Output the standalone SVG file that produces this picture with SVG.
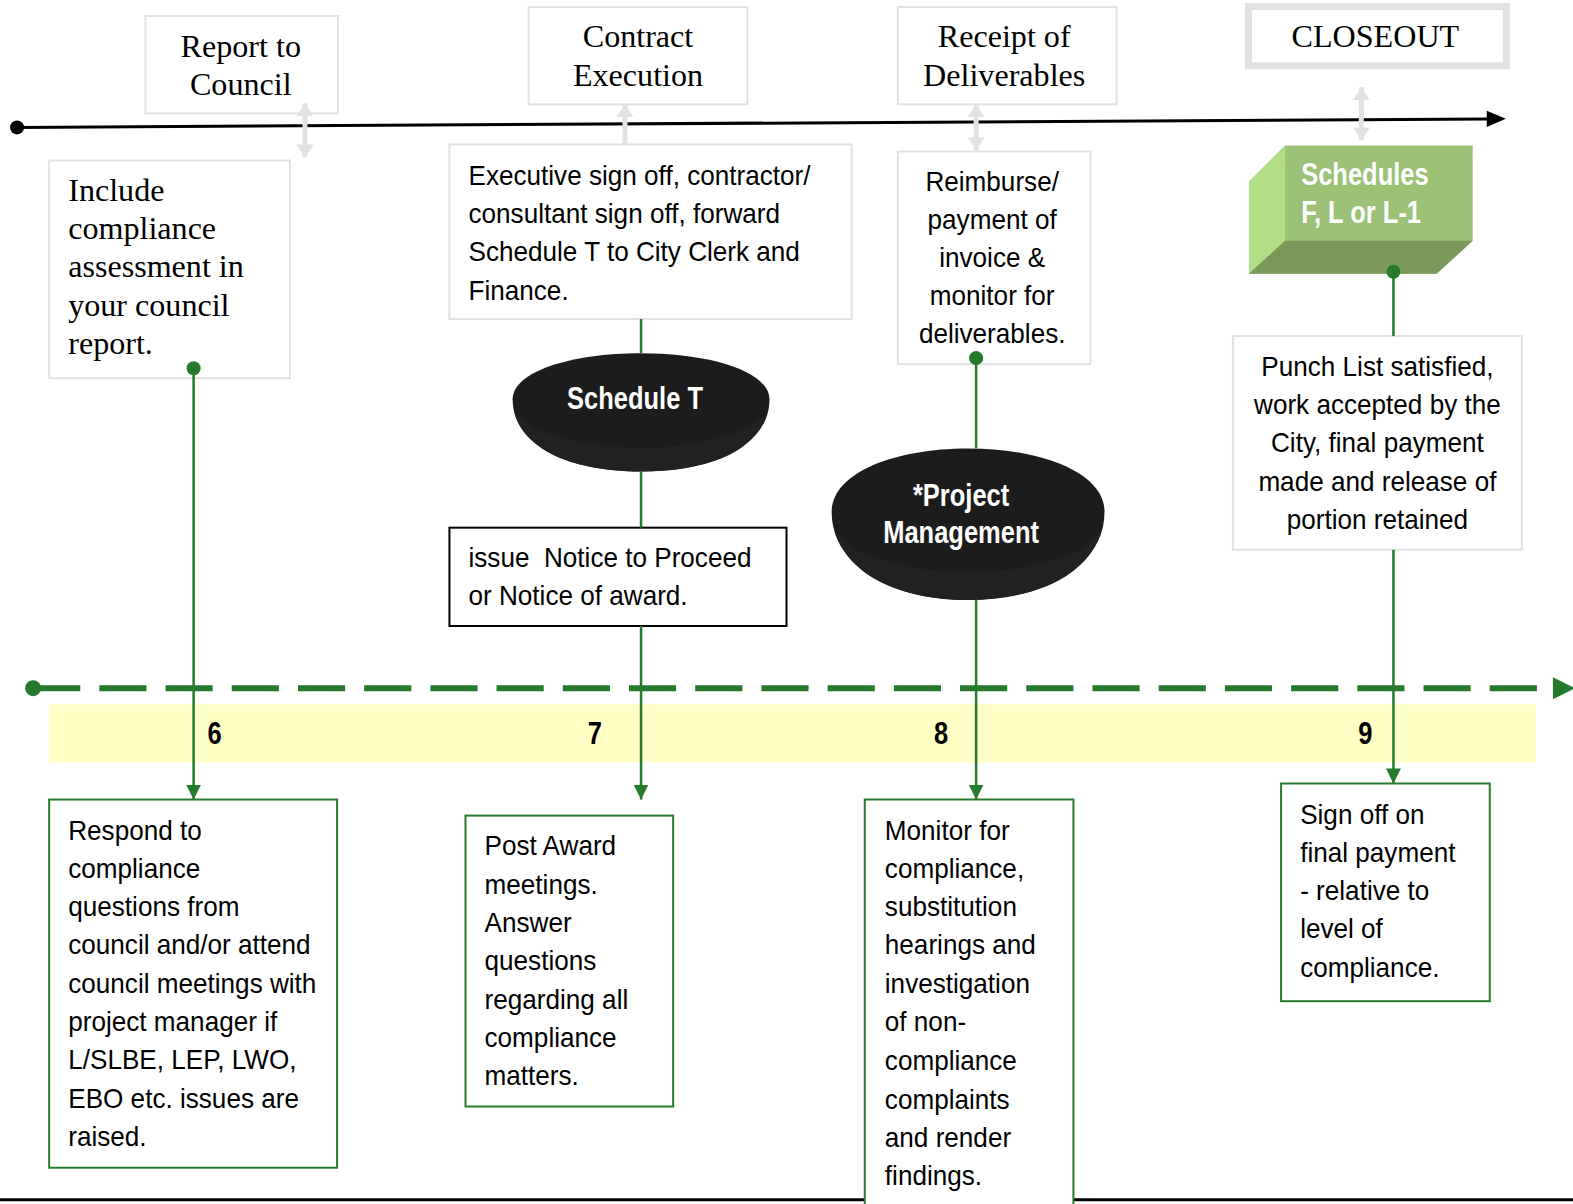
<svg xmlns="http://www.w3.org/2000/svg" width="1573" height="1204" viewBox="0 0 1573 1204">
<style>
.gbox{fill:#fff;stroke:#e2e2e2;stroke-width:2}
.grbox{fill:#fff;stroke:#267a2c;stroke-width:2}
.bbox{fill:#fff;stroke:#000;stroke-width:2}
.serif{font-family:"Liberation Serif","Times New Roman",serif;font-size:32px;fill:#000}
.sans{font-family:"Liberation Sans",Arial,sans-serif;font-size:28px;fill:#000}
.bold{font-family:"Liberation Sans",Arial,sans-serif;font-size:31px;font-weight:bold}
.mid{text-anchor:middle}
.gline{stroke:#267a2c;stroke-width:2.5;fill:none}
.grey{stroke:#e2e2e2;stroke-width:5;fill:none}
</style>
<defs>
<marker id="ga" viewBox="0 0 10 10" refX="10" refY="5" markerWidth="15" markerHeight="15" markerUnits="userSpaceOnUse" orient="auto"><path d="M0,0L10,5L0,10Z" fill="#267a2c"/></marker>
<marker id="gr" viewBox="0 0 10 10" refX="10" refY="5" markerWidth="13" markerHeight="17" markerUnits="userSpaceOnUse" orient="auto-start-reverse" preserveAspectRatio="none"><path d="M0,0L10,5L0,10Z" fill="#e2e2e2"/></marker>
</defs>
<g transform="scale(1.0032)">
<!-- timelines -->
<g id="timelines">
<line x1="17" y1="127" x2="1484" y2="118.6" stroke="#000" stroke-width="3"/>
<circle cx="17" cy="127" r="7" fill="#000"/>
<polygon points="1482,110.5 1501,118.4 1482,126.5" fill="#000"/>
<line x1="33" y1="686" x2="1550" y2="686" stroke="#267a2c" stroke-width="6" stroke-dasharray="47 19"/>
<circle cx="33" cy="686" r="8" fill="#267a2c"/>
<polygon points="1548,675 1570,686 1548,697" fill="#267a2c"/>
<rect x="49" y="702" width="1482" height="58" fill="#ffffc6"/>
<line x1="0" y1="1196" x2="1573" y2="1196" stroke="#000" stroke-width="3"/>
</g>

<!-- top stage boxes -->
<g id="report-to-council"><rect class="gbox" x="145" y="16" width="192" height="97"/>
<text class="serif mid"><tspan x="240" y="57">Report to</tspan><tspan x="240" y="95">Council</tspan></text></g>
<g id="contract-execution"><rect class="gbox" x="527" y="7" width="218" height="97"/>
<text class="serif mid"><tspan x="636" y="47">Contract</tspan><tspan x="636" y="86">Execution</tspan></text></g>
<g id="receipt-of-deliverables"><rect class="gbox" x="895" y="7" width="218" height="97"/>
<text class="serif mid"><tspan x="1001" y="47">Receipt of</tspan><tspan x="1001" y="86">Deliverables</tspan></text></g>
<g id="closeout"><rect x="1244.5" y="6.5" width="257" height="59" fill="#fff" stroke="#e2e2e2" stroke-width="7"/>
<text class="serif mid" x="1371" y="47">CLOSEOUT</text></g>

<!-- upper detail boxes -->
<g id="include-compliance"><rect class="gbox" x="49" y="160" width="240" height="217"/>
<text class="serif"><tspan x="68" y="200">Include</tspan><tspan x="68" y="238">compliance</tspan><tspan x="68" y="276">assessment in</tspan><tspan x="68" y="315">your council</tspan><tspan x="68" y="353">report.</tspan></text></g>

<g id="executive-sign-off"><rect class="gbox" x="448" y="144" width="401" height="174"/>
<text class="sans" transform="translate(467,0) scale(0.93,1)"><tspan x="0" y="184">Executive sign off, contractor/</tspan><tspan x="0" y="222">consultant sign off, forward</tspan><tspan x="0" y="260">Schedule T to City Clerk and</tspan><tspan x="0" y="299">Finance.</tspan></text></g>

<g id="reimburse"><rect class="gbox" x="895" y="151" width="192" height="212"/>
<text class="sans mid" transform="translate(989,0) scale(0.93,1)"><tspan x="0" y="190">Reimburse/</tspan><tspan x="0" y="228">payment of</tspan><tspan x="0" y="266">invoice &amp;</tspan><tspan x="0" y="304">monitor for</tspan><tspan x="0" y="342">deliverables.</tspan></text></g>

<g id="schedules-f-l"><polygon points="1245,181 1281,145 1468,145 1468,240 1432,273 1245,273" fill="#9bc277"/>
<polygon points="1245,181 1281,145 1281,240 1245,273" fill="#b2de88"/>
<polygon points="1281,240 1468,240 1432,273 1245,273" fill="#7a995a"/>
<text class="bold" fill="#fff" transform="translate(1297,0) scale(0.82,1)"><tspan x="0" y="184">Schedules</tspan><tspan x="0" y="222">F, L or L-1</tspan></text></g>

<g id="punch-list"><rect class="gbox" x="1229" y="335" width="288" height="213"/>
<text class="sans mid" transform="translate(1373,0) scale(0.93,1)"><tspan x="0" y="375">Punch List satisfied,</tspan><tspan x="0" y="413">work accepted by the</tspan><tspan x="0" y="451">City, final payment</tspan><tspan x="0" y="489">made and release of</tspan><tspan x="0" y="527">portion retained</tspan></text></g>

<g id="schedule-t"><path d="M511,398 C511,370 570,352 639,352 C708,352 767,370 767,398 C767,445 710,470 639,470 C568,470 511,445 511,398 Z" fill="#1c1c1c"/>
<path d="M515,412 C530,432 580,446 639,446 C698,446 748,432 763,412 C755,450 705,470 639,470 C573,470 523,450 515,412 Z" fill="#212121"/>
<text class="bold mid" fill="#fff" transform="translate(633,0) scale(0.82,1)" x="0" y="408">Schedule T</text></g>

<g id="issue-notice"><rect class="bbox" x="448" y="526" width="336" height="98"/>
<text class="sans" transform="translate(467,0) scale(0.93,1)"><tspan x="0" y="565" xml:space="preserve">issue  Notice to Proceed</tspan><tspan x="0" y="603">or Notice of award.</tspan></text></g>

<g id="project-management"><path d="M829,510 C829,472 890,447 965,447 C1040,447 1101,472 1101,510 C1101,565 1040,598 965,598 C890,598 829,565 829,510 Z" fill="#1c1c1c"/>
<path d="M834,530 C850,555 905,570 965,570 C1025,570 1080,555 1096,530 C1085,575 1030,598 965,598 C900,598 845,575 834,530 Z" fill="#212121"/>
<text class="bold mid" fill="#fff" transform="translate(958,0) scale(0.82,1)"><tspan x="0" y="504">*Project</tspan><tspan x="0" y="541">Management</tspan></text></g>

<!-- numbers -->
<g id="step-numbers"><text class="bold mid" fill="#000" transform="translate(214,0) scale(0.82,1)" x="0" y="742">6</text>
<text class="bold mid" fill="#000" transform="translate(593,0) scale(0.82,1)" x="0" y="742">7</text>
<text class="bold mid" fill="#000" transform="translate(938,0) scale(0.82,1)" x="0" y="742">8</text>
<text class="bold mid" fill="#000" transform="translate(1361,0) scale(0.82,1)" x="0" y="742">9</text></g>

<!-- bottom boxes -->
<g id="respond"><rect class="grbox" x="49" y="797" width="287" height="367"/>
<text class="sans" transform="translate(68,0) scale(0.93,1)"><tspan x="0" y="837">Respond to</tspan><tspan x="0" y="875">compliance</tspan><tspan x="0" y="913">questions from</tspan><tspan x="0" y="951">council and/or attend</tspan><tspan x="0" y="990">council meetings with</tspan><tspan x="0" y="1028">project manager if</tspan><tspan x="0" y="1066">L/SLBE, LEP, LWO,</tspan><tspan x="0" y="1104">EBO etc. issues are</tspan><tspan x="0" y="1142">raised.</tspan></text></g>

<g id="post-award"><rect class="grbox" x="464" y="813" width="207" height="290"/>
<text class="sans" transform="translate(483,0) scale(0.93,1)"><tspan x="0" y="852">Post Award</tspan><tspan x="0" y="891">meetings.</tspan><tspan x="0" y="929">Answer</tspan><tspan x="0" y="967">questions</tspan><tspan x="0" y="1006">regarding all</tspan><tspan x="0" y="1044">compliance</tspan><tspan x="0" y="1082">matters.</tspan></text></g>

<g id="monitor"><path d="M862,1206 V797 H1070 V1206" fill="#fff" stroke="#267a2c" stroke-width="2"/>
<text class="sans" transform="translate(882,0) scale(0.93,1)"><tspan x="0" y="837">Monitor for</tspan><tspan x="0" y="875">compliance,</tspan><tspan x="0" y="913">substitution</tspan><tspan x="0" y="951">hearings and</tspan><tspan x="0" y="990">investigation</tspan><tspan x="0" y="1028">of non-</tspan><tspan x="0" y="1067">compliance</tspan><tspan x="0" y="1105">complaints</tspan><tspan x="0" y="1143">and render</tspan><tspan x="0" y="1181">findings.</tspan></text></g>

<g id="sign-off"><rect class="grbox" x="1277" y="781" width="208" height="217"/>
<text class="sans" transform="translate(1296,0) scale(0.93,1)"><tspan x="0" y="821">Sign off on</tspan><tspan x="0" y="859">final payment</tspan><tspan x="0" y="897">- relative to</tspan><tspan x="0" y="935">level of</tspan><tspan x="0" y="974">compliance.</tspan></text></g>

<!-- connectors -->
<g id="connectors">
<line class="grey" x1="304" y1="103" x2="304" y2="157" marker-start="url(#gr)" marker-end="url(#gr)"/>
<line class="grey" x1="623" y1="144" x2="623" y2="104" marker-end="url(#gr)"/>
<line class="grey" x1="973" y1="104" x2="973" y2="150" marker-start="url(#gr)" marker-end="url(#gr)"/>
<line class="grey" x1="1357" y1="87" x2="1357" y2="140" marker-start="url(#gr)" marker-end="url(#gr)"/>
<circle cx="193" cy="367" r="7" fill="#267a2c"/>
<line class="gline" x1="193" y1="367" x2="193" y2="797" marker-end="url(#ga)"/>
<line class="gline" x1="639" y1="318" x2="639" y2="352"/>
<line class="gline" x1="639" y1="470" x2="639" y2="526"/>
<line class="gline" x1="639" y1="624" x2="639" y2="797" marker-end="url(#ga)"/>
<circle cx="973" cy="357" r="7" fill="#267a2c"/>
<line class="gline" x1="973" y1="357" x2="973" y2="447"/>
<line class="gline" x1="973" y1="598" x2="973" y2="797" marker-end="url(#ga)"/>
<circle cx="1389" cy="271" r="7" fill="#267a2c"/>
<line class="gline" x1="1389" y1="271" x2="1389" y2="335"/>
<line class="gline" x1="1389" y1="548" x2="1389" y2="781" marker-end="url(#ga)"/>
</g>
</g>
</svg>
